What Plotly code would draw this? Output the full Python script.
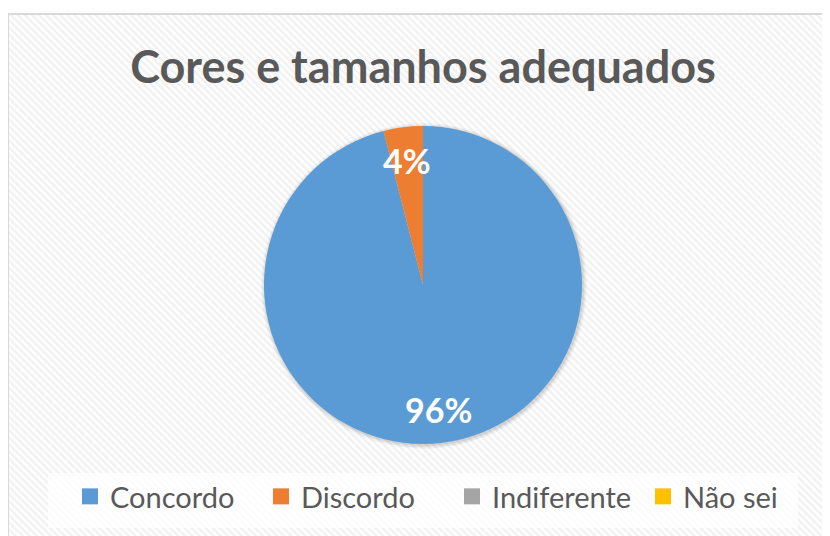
import base64
import math
import plotly.graph_objects as go

# dados do gráfico
categorias = ["Concordo", "Discordo", "Indiferente", "Não sei"]
valores = [96, 4, 0, 0]
cores = ["#5B9BD5", "#ED7D31", "#A5A5A5", "#FFC000"]
titulo = "Cores e tamanhos adequados"

W, H = 830, 536
FONT = "Lato"
CX, CY, R = 415, 277, 159  # centro e raio da pizza (px)

total = sum(valores)

# fundo com listras diagonais (estilo Excel)
svg = (
    '<svg xmlns="http://www.w3.org/2000/svg" width="830" height="530">'
    '<defs><pattern id="p" width="5" height="5" patternUnits="userSpaceOnUse" '
    'patternTransform="rotate(-45)">'
    '<rect width="5" height="5" fill="#ffffff"/>'
    '<rect width="2.5" height="5" fill="#f1f1f1"/></pattern></defs>'
    '<rect width="100%" height="100%" fill="url(#p)"/></svg>'
)
fundo = "data:image/svg+xml;base64," + base64.b64encode(svg.encode()).decode()

fig = go.Figure(go.Pie(
    labels=categorias,
    values=valores,
    textinfo="none",
    marker=dict(colors=cores, line=dict(width=0)),
    sort=False,
    direction="clockwise",
    rotation=0,
    showlegend=False,
    hoverinfo="label+percent",
    domain=dict(x=[(CX - R) / W, (CX + R) / W], y=[1 - (CY + R) / H, 1 - (CY - R) / H]),
))

# entradas da legenda com quadrados maiores
for nome, cor in zip(categorias, cores):
    fig.add_trace(go.Scatter(
        x=[None], y=[None], mode="markers", name=nome,
        marker=dict(symbol="square", size=18, color=cor),
    ))

# rótulos de porcentagem perto da borda de cada fatia
anots = []
acum = 0
for v in valores:
    if v > 0:
        meio = 2 * math.pi * (acum + v / 2) / total
        px_ = CX + 0.79 * R * math.sin(meio)
        py_ = CY - 0.79 * R * math.cos(meio)
        anots.append(dict(
            x=px_ / W, y=1 - py_ / H, xref="paper", yref="paper",
            xanchor="center", yanchor="middle",
            text=f"{v / total:.0%}", showarrow=False,
            font=dict(family=FONT, size=34, color="white", weight="bold"),
        ))
    acum += v

# sombra suave da pizza
sombras = []
for extra, alfa in [(4, 0.04), (2.5, 0.05), (1.2, 0.07)]:
    sombras.append(dict(
        type="circle", xref="paper", yref="paper", layer="below",
        x0=(CX - R - extra + 1) / W, x1=(CX + R + extra + 1) / W,
        y0=1 - (CY + R + extra + 1) / H, y1=1 - (CY - R - extra + 1) / H,
        fillcolor=f"rgba(0,0,0,{alfa})", line=dict(width=0),
    ))

# caixa clara atrás da legenda
caixa_legenda = dict(
    type="rect", xref="paper", yref="paper", layer="below",
    x0=40 / W, x1=790 / W, y0=1 - 520 / H, y1=1 - 465 / H,
    fillcolor="rgba(255,255,255,0.75)", line=dict(width=0),
)

fig.update_layout(
    width=W, height=H,
    margin=dict(l=0, r=0, t=0, b=0),
    paper_bgcolor="white",
    plot_bgcolor="rgba(0,0,0,0)",
    xaxis=dict(visible=False),
    yaxis=dict(visible=False),
    annotations=anots,
    title=dict(
        text=titulo,
        x=0.5, xanchor="center",
        y=1 - 59 / H, yanchor="middle",
        font=dict(family=FONT, size=45, color="#595959", weight="bold"),
    ),
    legend=dict(
        orientation="h",
        x=62 / W, xanchor="left",
        y=1 - 463 / H, yanchor="top",
        bgcolor="rgba(0,0,0,0)",
        font=dict(family=FONT, size=29, color="#595959"),
        traceorder="normal",
        entrywidth=146,
        itemclick=False, itemdoubleclick=False,
    ),
    images=[dict(
        source=fundo, xref="paper", yref="paper",
        x=0, y=1 - 6 / H, sizex=1, sizey=530 / H,
        xanchor="left", yanchor="top", sizing="stretch", layer="below",
    )],
    shapes=sombras + [caixa_legenda, dict(
        type="rect", xref="paper", yref="paper",
        x0=0, x1=1.02, y0=-0.02, y1=1 - 6 / H,
        line=dict(color="#D9D9D9", width=2), fillcolor="rgba(0,0,0,0)",
    )],
)

fig.write_html("out.html")
